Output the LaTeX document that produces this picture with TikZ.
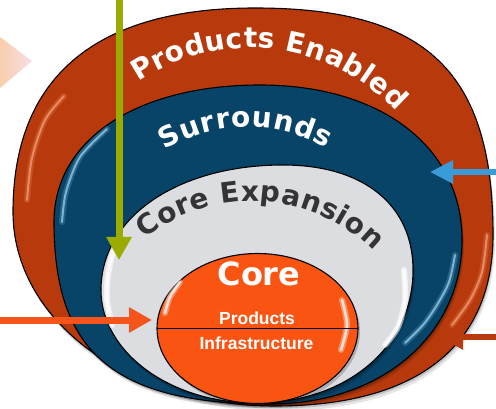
\documentclass[tikz,border=0pt]{standalone}
\usepackage{fontspec}
\setsansfont{DejaVu Sans}
\newfontfamily\labelfont{Liberation Sans}
\usetikzlibrary{arrows.meta,decorations.text,calc,shapes.geometric}

\definecolor{ringorange}{RGB}{184,58,12}
\definecolor{ringblue}{RGB}{8,67,104}
\definecolor{ringgrey}{RGB}{220,221,224}
\definecolor{corefill}{RGB}{250,84,18}
\definecolor{inktext}{RGB}{52,52,54}
\definecolor{olivearrow}{RGB}{155,172,0}
\definecolor{skyarrow}{RGB}{57,156,216}
\definecolor{flamearrow}{RGB}{245,84,26}
\definecolor{rustarrow}{RGB}{184,58,14}
\definecolor{peach}{RGB}{248,206,172}
\definecolor{blush}{RGB}{247,222,230}
\definecolor{glowblue}{RGB}{150,210,238}
\definecolor{gloworange}{RGB}{246,160,120}

\newcommand\ringtextstyle{\sffamily\bfseries\fontsize{28}{28}\selectfont}

% outlines of the three outer rings, one cubic per quarter
\newcommand\shapeenabled[1]{\path[#1] (255,-8)
  .. controls (426.4,-8) and (493,-71.6) .. (493,-235)
  .. controls (493,-346.2) and (416.7,-406) .. (275,-406)
  .. controls (128.3,-406) and (13,-320.6) .. (13,-212)
  .. controls (13,-77.4) and (95.3,-8) .. cycle;}
\newcommand\shapesurrounds[1]{\path[#1] (260,-85)
  .. controls (381.2,-85) and (462,-147) .. (462,-240)
  .. controls (462,-335.1) and (381.4,-404) .. (270,-404)
  .. controls (114.5,-404) and (54,-353) .. (54,-222)
  .. controls (54,-139.8) and (136.4,-85) .. cycle;}
\newcommand\shapeexpansion[1]{\path[#1] (283,-165)
  .. controls (363.6,-165) and (413,-204.9) .. (413,-270)
  .. controls (413,-347.1) and (346.6,-403) .. (255,-403)
  .. controls (170.3,-403) and (101,-352.2) .. (101,-290)
  .. controls (101,-217.5) and (177.4,-165) .. cycle;}

\tikzset{
  ringedge/.style={draw=black, line width=1.1pt},
  softshadow/.style={fill=black, draw=none, opacity=#1},
  sheen/.style={line cap=round, line width=2pt, opacity=0.75},
  halo/.style={line cap=round, line width=6pt, opacity=0.22},
  pointer/.style={-{Triangle[length=23pt,width=24pt]}, line width=7pt},
}

\begin{document}
\begin{tikzpicture}[x=1pt,y=1pt]
\useasboundingbox (0,0) rectangle (496,-409);
\fill[white] (0,0) rectangle (496,-409);

% faded chevron at the left edge
\shade[left color=peach, right color=blush] (0,-37) -- (32,-61) -- (0,-88) -- cycle;

% outer ring: Products Enabled
\shapeenabled{softshadow=0.10, shift={(2,-5)}}
\shapeenabled{softshadow=0.15, shift={(1,-2.5)}}
\shapeenabled{ringedge, fill=ringorange}
\draw[halo, draw=gloworange] plot[smooth] coordinates {(64,-96) (45,-120) (32,-158) (27,-200)};
\draw[sheen, draw=gloworange] plot[smooth] coordinates {(64,-96) (45,-120) (32,-158) (27,-200)};
\draw[halo, draw=gloworange] plot[smooth] coordinates {(487,-235) (482,-272) (470,-300) (452,-325)};
\draw[sheen, draw=gloworange] plot[smooth] coordinates {(487,-235) (482,-272) (470,-300) (452,-325)};

% ring: Surrounds
\shapesurrounds{softshadow=0.15, shift={(2,-4)}}
\shapesurrounds{softshadow=0.2, shift={(1,-2)}}
\shapesurrounds{ringedge, fill=ringblue}
\draw[halo, draw=glowblue] plot[smooth] coordinates {(107,-129) (80,-157) (66,-192) (62,-222)};
\draw[sheen, draw=glowblue] plot[smooth] coordinates {(107,-129) (80,-157) (66,-192) (62,-222)};
\draw[halo, draw=glowblue] plot[smooth] coordinates {(455,-255) (449,-282) (437,-305) (423,-325) (405,-343)};
\draw[sheen, draw=glowblue] plot[smooth] coordinates {(455,-255) (449,-282) (437,-305) (423,-325) (405,-343)};

% ring: Core Expansion
\shapeexpansion{softshadow=0.15, shift={(2,-4)}}
\shapeexpansion{softshadow=0.2, shift={(1,-2)}}
\shapeexpansion{ringedge, fill=ringgrey}
\draw[halo, draw=white, opacity=0.6] plot[smooth] coordinates {(113,-252) (108,-275) (107,-300) (112,-325)};
\draw[sheen, draw=white, line width=3pt] plot[smooth] coordinates {(113,-252) (108,-275) (107,-300) (112,-325)};
\draw[halo, draw=white, opacity=0.6] plot[smooth] coordinates {(404,-270) (405,-300) (398,-327) (385,-345)};
\draw[sheen, draw=white, line width=3pt] plot[smooth] coordinates {(404,-270) (405,-300) (398,-327) (385,-345)};

% core disc
\fill[black, opacity=0.2] (259.5,-331.5) ellipse[x radius=100.5, y radius=75];
\node[ellipse, ringedge, fill=corefill, inner sep=0pt, outer sep=0pt,
      minimum width=201pt, minimum height=150pt] (core) at (257.5,-328.5) {};
\draw[halo, draw=white, opacity=0.35] plot[smooth] coordinates {(180,-282) (170,-297) (165,-313)};
\draw[sheen, draw=white, line width=2.5pt] plot[smooth] coordinates {(180,-282) (170,-297) (165,-313)};
\draw[halo, draw=white, opacity=0.35] plot[smooth] coordinates {(342,-300) (347,-325) (341,-350)};
\draw[sheen, draw=white, line width=2.5pt] plot[smooth] coordinates {(342,-300) (347,-325) (341,-350)};
\draw[line width=1.8pt, draw=black!80!blue] (core.west) -- (core.east);

% curved ring titles
\coordinate (arcEnabled) at (250,-248);
\coordinate (arcSurrounds) at (247,-285);
\coordinate (arcExpansion) at (252,-373);
\path[decorate, decoration={text along path, text align=fit to path,
      text={|\ringtextstyle\color{white}|Products Enabled}}]
  ($(arcEnabled)+(124:200)$) arc[start angle=124, end angle=43, radius=200];
\path[decorate, decoration={text along path, text align=fit to path,
      text={|\ringtextstyle\color{white}|Surrounds}}]
  ($(arcSurrounds)+(121.3:158)$) arc[start angle=121.3, end angle=59.8, radius=158];
\path[decorate, decoration={text along path, text align=fit to path,
      text={|\ringtextstyle\color{inktext}|Core Expansion}}]
  ($(arcExpansion)+(128.5:172)$) arc[start angle=128.5, end angle=45, radius=172];

% core labels
\node[font=\sffamily\bfseries\fontsize{32}{32}\selectfont, text=white] (coreword) at (259,-273.5) {Core};
\node[font=\labelfont\bfseries\fontsize{17.5}{17.5}\selectfont, text=white] (productsword) at (257,-318) {Products};
\node[font=\labelfont\bfseries\fontsize{17.5}{17.5}\selectfont, text=white] (infraword) at (256.5,-343) {Infrastructure};

% pointers
\coordinate (oliveStart) at (119,0);
\coordinate (oliveTip) at (119,-260);
\coordinate (skyStart) at (496,-172);
\coordinate (skyTip) at (430,-172);
\coordinate (flameStart) at (0,-320);
\coordinate (flameTip) at (152,-320);
\coordinate (rustStart) at (496,-337);
\coordinate (rustTip) at (440,-337);
\draw[pointer, draw=olivearrow, fill=olivearrow] (oliveStart) -- (oliveTip);
\draw[pointer, draw=skyarrow, fill=skyarrow, line width=6pt,
      -{Triangle[length=23pt,width=22pt]}] (skyStart) -- (skyTip);
\draw[pointer, draw=flamearrow, fill=flamearrow] (flameStart) -- (flameTip);
\draw[pointer, draw=rustarrow, fill=rustarrow, line width=6pt] (rustStart) -- (rustTip);
\end{tikzpicture}
\end{document}
